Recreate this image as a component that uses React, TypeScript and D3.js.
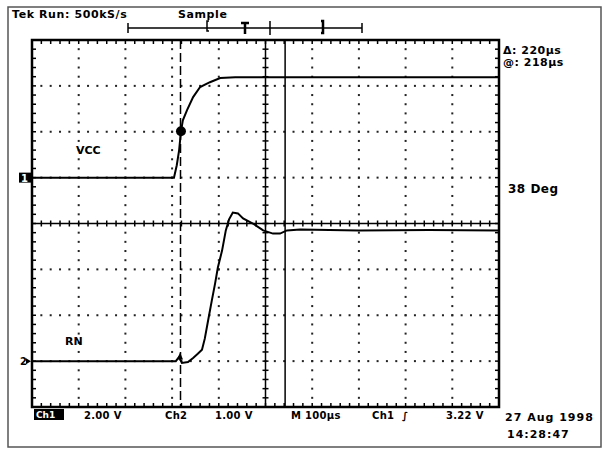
import { useEffect, useRef } from 'react';
import * as d3 from 'd3';

// time in µs from left edge of screen (100 µs/div), volts per channel
const vccTime = [0, 304, 310, 315, 319, 323, 332, 345, 360, 381, 403, 435, 1000];
const vccVolts = [0, 0, 0.54, 1.19, 2.02, 2.5, 2.94, 3.51, 3.95, 4.16, 4.34, 4.38, 4.38];

const rnTime = [0, 308, 315, 321, 334, 345, 355, 364, 370, 377, 385, 392, 398, 407, 415, 422, 430, 441, 452, 473, 495, 516, 531, 546, 574, 700, 850, 1000];
const rnVolts = [0, 0, 0.09, -0.04, -0.02, 0.07, 0.16, 0.25, 0.49, 0.88, 1.32, 1.69, 2.04, 2.41, 2.85, 3.09, 3.24, 3.22, 3.11, 3.0, 2.85, 2.78, 2.78, 2.85, 2.87, 2.85, 2.86, 2.85];

const cursorTimes = [318, 542];
const bottomLabels = ['2.00 V', 'Ch2', '1.00 V', 'M 100µs', 'Ch1', '∫', '3.22 V'];

export default function App() {
  const svgRef = useRef<SVGSVGElement>(null);

  useEffect(() => {
    if (!svgRef.current) return;
    const svg = d3.select(svgRef.current);
    svg.selectAll('*').remove();

    const left = 32, right = 499, top = 40, bottom = 407;
    const x = d3.scaleLinear().domain([0, 1000]).range([left, right]);
    const y1 = d3.scaleLinear().domain([-10, 6]).range([bottom, top]); // 2 V/div
    const y2 = d3.scaleLinear().domain([-1, 7]).range([bottom, top]); // 1 V/div
    const font = "'DejaVu Sans', sans-serif";

    svg.append('rect').attr('width', 603).attr('height', 449).attr('fill', '#fff');

    // outer frame
    svg.append('rect')
      .attr('x', 8).attr('y', 7).attr('width', 593).attr('height', 440)
      .attr('fill', 'none').attr('stroke', '#555').attr('stroke-width', 1.5);

    const g = svg.append('g');
    const xDiv = d3.range(0, 1001, 100);
    const yDiv = d3.range(-10, 7, 2);
    const minorX = d3.range(0, 1001, 20);
    const minorY = d3.range(-10, 6.01, 0.4);
    const cx = x(500), cy = y1(-2);

    // dotted grid
    xDiv.slice(1, -1).forEach(t => {
      if (t === 500) return;
      minorY.forEach(v => {
        g.append('rect').attr('x', x(t) - 1).attr('y', y1(v) - 1).attr('width', 2).attr('height', 2).attr('fill', '#222');
      });
    });
    yDiv.slice(1, -1).forEach(v => {
      if (v === -2) return;
      minorX.forEach(t => {
        g.append('rect').attr('x', x(t) - 1).attr('y', y1(v) - 1).attr('width', 2).attr('height', 2).attr('fill', '#222');
      });
    });

    // center axes with ticks
    g.append('line').attr('x1', left).attr('x2', right).attr('y1', cy).attr('y2', cy).attr('stroke', '#000').attr('stroke-width', 1.5);
    g.append('line').attr('x1', cx).attr('x2', cx).attr('y1', top).attr('y2', bottom).attr('stroke', '#000').attr('stroke-width', 1.5);
    minorX.forEach(t => {
      g.append('line').attr('x1', x(t)).attr('x2', x(t)).attr('y1', cy - 3).attr('y2', cy + 3).attr('stroke', '#000').attr('stroke-width', 1.5);
      g.append('line').attr('x1', x(t)).attr('x2', x(t)).attr('y1', top).attr('y2', top + 4).attr('stroke', '#000').attr('stroke-width', 1.5);
      g.append('line').attr('x1', x(t)).attr('x2', x(t)).attr('y1', bottom).attr('y2', bottom - 4).attr('stroke', '#000').attr('stroke-width', 1.5);
    });
    minorY.forEach(v => {
      g.append('line').attr('x1', cx - 3).attr('x2', cx + 3).attr('y1', y1(v)).attr('y2', y1(v)).attr('stroke', '#000').attr('stroke-width', 1.5);
      g.append('line').attr('x1', left).attr('x2', left + 4).attr('y1', y1(v)).attr('y2', y1(v)).attr('stroke', '#000').attr('stroke-width', 1.5);
      g.append('line').attr('x1', right).attr('x2', right - 4).attr('y1', y1(v)).attr('y2', y1(v)).attr('stroke', '#000').attr('stroke-width', 1.5);
    });

    // graticule border
    g.append('rect')
      .attr('x', left).attr('y', top).attr('width', right - left).attr('height', bottom - top)
      .attr('fill', 'none').attr('stroke', '#000').attr('stroke-width', 2.5);

    // cursors
    g.append('line').attr('x1', x(cursorTimes[0])).attr('x2', x(cursorTimes[0]))
      .attr('y1', top).attr('y2', bottom).attr('stroke', '#000').attr('stroke-width', 1.5).attr('stroke-dasharray', '9,4');
    g.append('line').attr('x1', x(cursorTimes[1])).attr('x2', x(cursorTimes[1]))
      .attr('y1', top).attr('y2', bottom).attr('stroke', '#000').attr('stroke-width', 1.5);

    // traces
    const vccLine = d3.line<number>().x((d, i) => x(vccTime[i])).y(d => y1(d));
    const rnLine = d3.line<number>().x((d, i) => x(rnTime[i])).y(d => y2(d));
    g.append('path').attr('d', vccLine(vccVolts)).attr('fill', 'none').attr('stroke', '#000').attr('stroke-width', 2);
    g.append('path').attr('d', rnLine(rnVolts)).attr('fill', 'none').attr('stroke', '#000').attr('stroke-width', 2);

    // cursor marker on VCC
    g.append('circle').attr('cx', x(319)).attr('cy', y1(2.02)).attr('r', 5).attr('fill', '#000');
    g.append('path')
      .attr('d', `M${x(317) - 3},${y2(0.1) + 3}L${x(317)},${y2(0.1) - 4}L${x(317) + 3},${y2(0.1) + 3}Z`)
      .attr('fill', '#000');

    // ground markers
    [[y1(0), '1'], [y2(0), '2']].forEach(([yy, lab], i) => {
      const yv = yy as number;
      if (i === 0) {
        g.append('rect').attr('x', 19).attr('y', yv - 5).attr('width', 13).attr('height', 10).attr('fill', '#000');
        g.append('text').attr('x', 21).attr('y', yv + 4).attr('fill', '#fff').attr('font-family', font)
          .attr('font-weight', 'bold').attr('font-size', 10).text(lab as string);
      } else {
        g.append('text').attr('x', 20).attr('y', yv + 4).attr('fill', '#000').attr('font-family', font)
          .attr('font-weight', 'bold').attr('font-size', 10).text(lab as string);
        g.append('path').attr('d', `M26,${yv - 3}L31,${yv}L26,${yv + 3}Z`).attr('fill', '#000');
      }
    });

    // text helper
    const txt = (tx: number, ty: number, s: string, size = 10, spacing = 0) =>
      svg.append('text').attr('x', tx).attr('y', ty).attr('font-family', font).attr('font-weight', 'bold')
        .attr('font-size', size).attr('letter-spacing', spacing).attr('fill', '#000').text(s);

    txt(76, 154, 'VCC', 11);
    txt(65, 345, 'RN', 11);

    // header
    txt(12, 18, 'Tek Run: 500kS/s', 11, 0.6);
    txt(178, 18, 'Sample', 11, 0.6);

    // record bar
    const bar = svg.append('g').attr('stroke', '#000').attr('stroke-width', 1.5).attr('fill', 'none');
    bar.append('line').attr('x1', 128).attr('x2', 362).attr('y1', 28).attr('y2', 28);
    bar.append('line').attr('x1', 128).attr('x2', 128).attr('y1', 23).attr('y2', 33);
    bar.append('line').attr('x1', 362).attr('x2', 362).attr('y1', 23).attr('y2', 33);
    bar.append('path').attr('d', 'M209,21L207,21L207,31L209,31');
    bar.append('path').attr('d', 'M321,21L323,21L323,33L321,33').attr('stroke-width', 2.5);
    bar.append('path').attr('d', 'M241,23L249,23M245,23L245,34').attr('stroke-width', 2.5);
    bar.append('line').attr('x1', 270).attr('x2', 270).attr('y1', 21).attr('y2', 35);

    // right side readouts
    txt(503, 54, 'Δ: 220µs', 11, 0.5);
    txt(503, 66, '@: 218µs', 11, 0.5);
    txt(508, 193, '38 Deg', 12, 0.5);

    // bottom readouts
    svg.append('rect').attr('x', 34).attr('y', 409).attr('width', 30).attr('height', 11).attr('fill', '#000');
    txt(36, 418, 'Ch1', 9).attr('fill', '#fff');
    const bx = [84, 165, 215, 291, 372, 402, 446];
    bottomLabels.forEach((s, i) => txt(bx[i], 419, s, 10, 0.3));
    txt(505, 421, '27 Aug 1998', 11, 1);
    txt(507, 438, '14:28:47', 11, 1);
  }, []);

  return (
    <svg ref={svgRef} width={603} height={449} viewBox="0 0 603 449"
      style={{ position: 'absolute', left: 0, top: 0, display: 'block' }} />
  );
}
